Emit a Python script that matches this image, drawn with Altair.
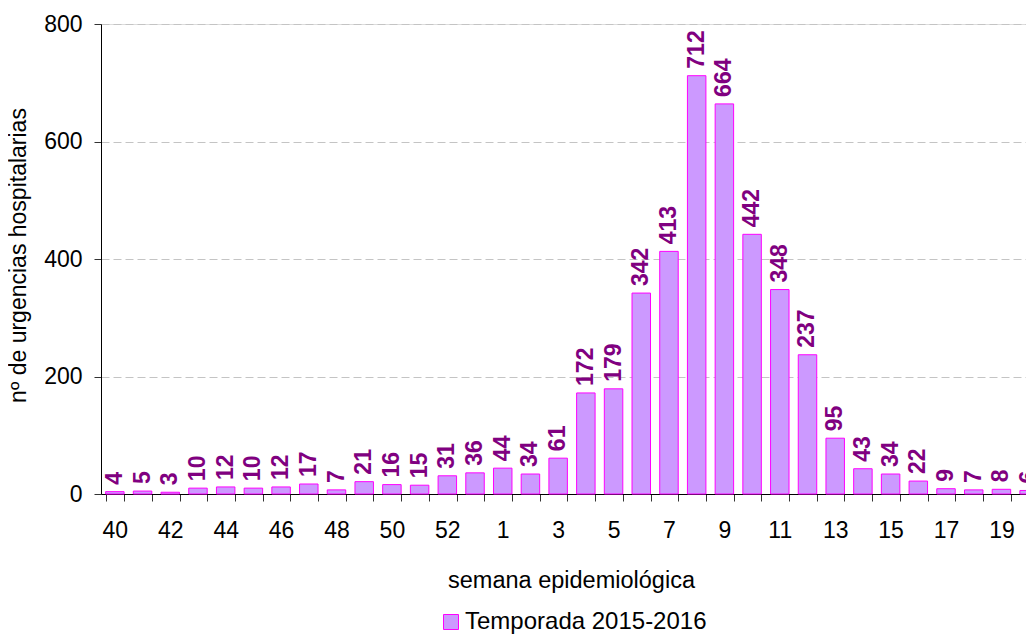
import json
import altair as alt
import pandas as pd

weeks = ['40', '41', '42', '43', '44', '45', '46', '47', '48', '49', '50', '51', '52', '53',
         '1', '2', '3', '4', '5', '6', '7', '8', '9', '10', '11', '12', '13', '14', '15',
         '16', '17', '18', '19', '20']
values = [4, 5, 3, 10, 12, 10, 12, 17, 7, 21, 16, 15, 31, 36,
          44, 34, 61, 172, 179, 342, 413, 712, 664, 442, 348, 237, 95, 43, 34,
          22, 9, 7, 8, 6]
x_labels = ['40', '42', '44', '46', '48', '50', '52', '1', '3', '5', '7', '9', '11',
            '13', '15', '17', '19']
y_ticks = [0, 200, 400, 600, 800]
series_name = 'Temporada 2015-2016'

df = pd.DataFrame({'semana': weeks, 'valor': values, 'serie': series_name})

FONT = 'Liberation Sans'
label_expr = "indexof(" + json.dumps(x_labels) + ", datum.value) >= 0 ? datum.value : ''"

x_enc = alt.X(
    'semana:N', sort=weeks,
    scale=alt.Scale(range=[0, 942], paddingInner=0.333, paddingOuter=0.1667),
    axis=alt.Axis(
        title='semana epidemiológica', labelAngle=0, labelExpr=label_expr,
        labelOverlap=False, tickBand='extent', tickSize=7, tickColor='#333333',
        domainColor='#000000', labelPadding=36, labelBaseline='alphabetic',
        labelFont=FONT, labelFontSize=23, labelColor='#000000',
        titleFont=FONT, titleFontSize=23.5, titleFontWeight='normal', titleColor='#000000',
        titleX=470, titleY=93, titleBaseline='alphabetic', grid=False,
    ),
)
y_enc = alt.Y(
    'valor:Q',
    scale=alt.Scale(domain=[0, 800]),
    axis=alt.Axis(
        values=y_ticks, title='nº de urgencias hospitalarias',
        tickSize=7, tickColor='#333333', domainColor='#000000', labelPadding=12,
        labelFont=FONT, labelFontSize=23, labelColor='#000000',
        titleFont=FONT, titleFontSize=23, titleFontWeight='normal', titleColor='#000000',
        titleAngle=270, titleX=-76, titleY=231, titleBaseline='alphabetic', titleAlign='center',
        grid=True, gridColor='#c4c4c4', gridDash=[8, 4], gridWidth=1,
    ),
)

base = alt.Chart(df)

bars = base.mark_bar(stroke='#FF00FF', strokeWidth=1).encode(
    x=x_enc, y=y_enc,
    color=alt.Color('serie:N', scale=alt.Scale(domain=[series_name], range=['#CC99FF']),
                    legend=alt.Legend(
                        title=None, orient='none', legendX=338, legendY=586,
                        symbolType='square', symbolSize=225, symbolStrokeColor='#FF00FF',
                        symbolStrokeWidth=1, symbolFillColor='#CC99FF', labelOffset=2,
                        labelLimit=0,
                        labelFont=FONT, labelFontSize=24, labelColor='#000000', padding=0,
                    )),
)

labels = base.mark_text(
    angle=270, align='left', baseline='middle', dx=7,
    font=FONT, fontSize=23, fontWeight='bold', color='#800080',
).encode(x=x_enc, y=y_enc, text='valor:Q')

chart = alt.layer(bars, labels).properties(
    width=925, height=470,
    autosize=alt.AutoSizeParams(type='none'),
    padding={'left': 93, 'top': 16, 'right': 0, 'bottom': 140},
).configure_view(stroke=None).configure(background='white')

chart.save('out.html', embed_options={'renderer': 'svg', 'actions': False})
